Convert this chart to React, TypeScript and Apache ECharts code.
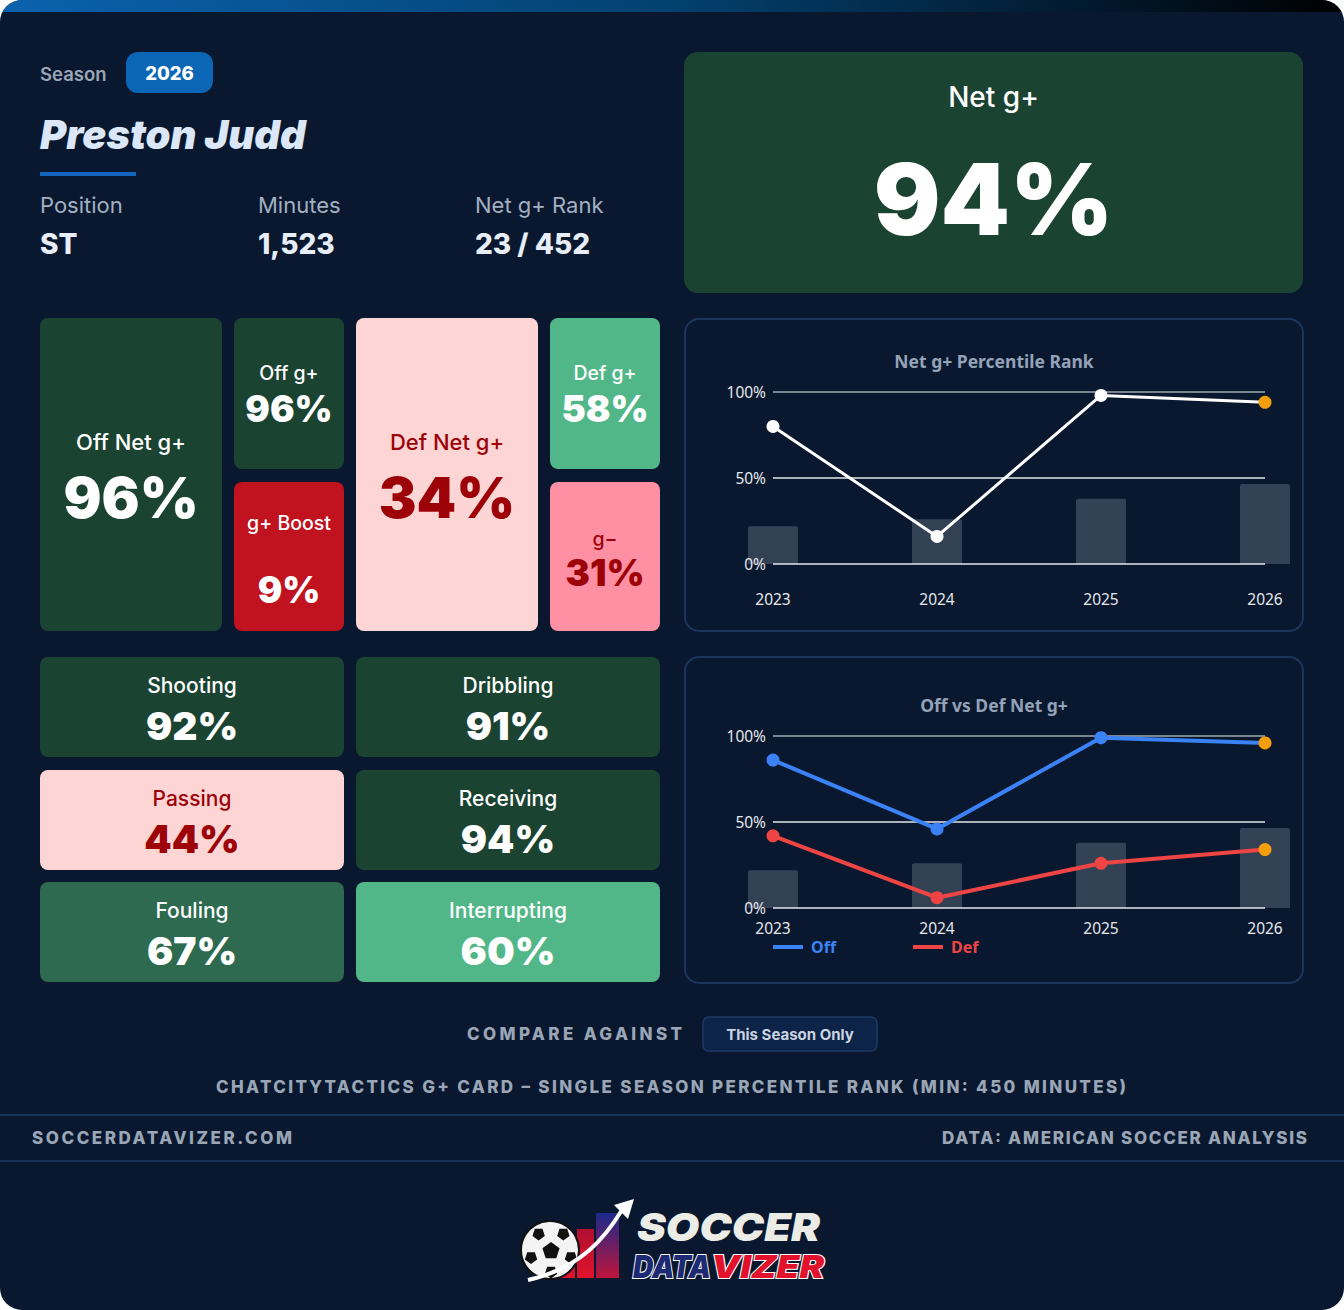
import React, { useEffect, useRef } from "react";
import * as echarts from "echarts";

// ---------- data ----------
const seasonLabel = "2026";
const playerName = "Preston Judd";
const infoLabels = ["Position", "Minutes", "Net g+ Rank"];
const infoValues = ["ST", "1,523", "23 / 452"];
const netGPlusLabel = "Net g+";
const netGPlusValue = 94;

const splitLabels = ["Off Net g+", "Off g+", "g+ Boost", "Def Net g+", "Def g+", "g−"];
const splitValues = [96, 96, 9, 34, 58, 31];

const skillLabels = ["Shooting", "Dribbling", "Passing", "Receiving", "Fouling", "Interrupting"];
const skillValues = [92, 91, 44, 94, 67, 60];

const years = ["2023", "2024", "2025", "2026"];
const netPct = [80, 16, 98, 94];
const offPct = [86, 46, 99, 96];
const defPct = [42, 6, 26, 34];
const seasonBars = [22, 26, 38, 46.5];
const yTickInterval = 50;

const chartTitles = ["Net g+ Percentile Rank", "Off vs Def Net g+"];
const compareLabel = "COMPARE AGAINST";
const compareButton = "This Season Only";
const creditLine = "CHATCITYTACTICS G+ CARD – SINGLE SEASON PERCENTILE RANK (MIN: 450 MINUTES)";
const footerLeft = "SOCCERDATAVIZER.COM";
const footerRight = "DATA: AMERICAN SOCCER ANALYSIS";
const logoWords = ["SOCCER", "DATA", "VIZER"];

// ---------- styles / layout ----------
const BG = "#09182f";
const DARK_RED = "#9d0208";
const CHART_FONT = "'Noto Sans', sans-serif";
const INTER = "Inter, 'Noto Sans', sans-serif";

function tileColors(v: number) {
  if (v >= 90) return { bg: "#1b4332", fg: "#ffffff" };
  if (v >= 65) return { bg: "#2d6a4f", fg: "#ffffff" };
  if (v >= 50) return { bg: "#52b788", fg: "#ffffff" };
  if (v >= 33) return { bg: "#fdd5d5", fg: DARK_RED };
  if (v >= 15) return { bg: "#ff8fa3", fg: DARK_RED };
  return { bg: "#c1121f", fg: "#ffffff" };
}

// x, y, w, h, labelY, valueY, labelSize, valueSize
const splitLayout = [
  [40, 318, 182, 313, 442, 497, 22, 56.5],
  [234, 318, 110, 151, 373, 409, 19.5, 36.5],
  [234, 482, 110, 149, 523, 590, 19.5, 36.5],
  [356, 318, 182, 313, 442, 497, 22, 56.5],
  [550, 318, 110, 151, 373, 409, 19.5, 36.5],
  [550, 482, 110, 149, 539, 573, 19.5, 36.5],
];
const skillLayout = [
  [40, 657],
  [356, 657],
  [40, 770],
  [356, 770],
  [40, 882],
  [356, 882],
];

// texts drawn with letter spacing / stretched: target width and adjust mode
const fittedTexts: Record<string, [number, string]> = {
  [compareLabel]: [215, "spacing"],
  [creditLine]: [910, "spacing"],
  [footerLeft]: [260, "spacing"],
  [footerRight]: [365, "spacing"],
  [logoWords[0]]: [183, "spacingAndGlyphs"],
  [logoWords[1]]: [78, "spacingAndGlyphs"],
  [logoWords[2]]: [113, "spacingAndGlyphs"],
};

function txt(
  text: string,
  x: number,
  y: number,
  size: number,
  weight: any,
  fill: string,
  family: string,
  align: string = "center",
  extra: any = {}
) {
  return {
    type: "text",
    z: 20,
    silent: true,
    style: {
      text,
      x,
      y,
      fill,
      fontSize: size,
      fontWeight: weight,
      fontFamily: family,
      textAlign: align,
      align,
      textVerticalAlign: "middle",
      verticalAlign: "middle",
      ...extra,
    },
  };
}

function rect(x: number, y: number, w: number, h: number, r: any, style: any, z = 5) {
  return { type: "rect", z, silent: true, shape: { x, y, width: w, height: h, r }, style };
}

function pentagon(cx: number, cy: number, r: number, rot: number) {
  const pts: number[][] = [];
  for (let i = 0; i < 5; i++) {
    const a = rot + (i * 2 * Math.PI) / 5 - Math.PI / 2;
    pts.push([cx + r * Math.cos(a), cy + r * Math.sin(a)]);
  }
  return pts;
}

function buildGraphics() {
  const els: any[] = [];

  // top gradient bar
  els.push(
    rect(0, 0, 1344, 12, 0, {
      fill: new echarts.graphic.LinearGradient(0, 0, 1, 0, [
        { offset: 0, color: "#0b62ae" },
        { offset: 0.5, color: "#02416f" },
        { offset: 0.8, color: "#021a30" },
        { offset: 1, color: "#000000" },
      ]),
    })
  );

  // header
  els.push(txt("Season", 40, 74, 18.5, 600, "#9aa6b6", INTER, "left"));
  els.push(rect(126, 52, 87, 41, 12, { fill: "#0b66b5" }));
  els.push(txt(seasonLabel, 169.5, 73, 18.5, 800, "#ffffff", INTER));
  els.push(txt(playerName, 40, 134, 40, 900, "#dbe7f7", INTER, "left", { fontStyle: "italic" }));
  els.push(rect(40, 172, 96, 4, 0, { fill: "#1565c0" }));
  const infoX = [40, 258, 475];
  infoLabels.forEach((l, i) => {
    els.push(txt(l, infoX[i], 205, 22, 400, "#a3b0c2", INTER, "left"));
    els.push(txt(infoValues[i], infoX[i], 244, 28, 800, "#e8eef8", INTER, "left"));
  });

  // big net g+ box
  els.push(rect(684, 52, 619, 241, 14, { fill: tileColors(netGPlusValue).bg }));
  els.push(txt(netGPlusLabel, 993.5, 97, 28, 500, "#ffffff", INTER));
  els.push(txt(netGPlusValue + "%", 993.5, 199, 99, 900, "#ffffff", INTER));

  // split tiles
  splitLayout.forEach(([x, y, w, h, ly, vy, ls, vs], i) => {
    const c = tileColors(splitValues[i]);
    els.push(rect(x, y, w, h, 8, { fill: c.bg }));
    els.push(txt(splitLabels[i], x + w / 2, ly, ls, 500, c.fg, INTER));
    els.push(txt(splitValues[i] + "%", x + w / 2, vy, vs, 900, c.fg, INTER));
  });

  // skill tiles
  skillLayout.forEach(([x, y], i) => {
    const c = tileColors(skillValues[i]);
    els.push(rect(x, y, 304, 100, 8, { fill: c.bg }));
    els.push(txt(skillLabels[i], x + 152, y + 28, 21, 500, c.fg, INTER));
    els.push(txt(skillValues[i] + "%", x + 152, y + 68, 39, 900, c.fg, INTER));
  });

  // chart panels
  els.push(rect(685, 319, 618, 312, 14, { fill: "none", stroke: "#1b355e", lineWidth: 2 }, 1));
  els.push(rect(685, 657, 618, 326, 14, { fill: "none", stroke: "#1b355e", lineWidth: 2 }, 1));
  els.push(txt(chartTitles[0], 994, 361, 17.5, 700, "#94a3b8", CHART_FONT));
  els.push(txt(chartTitles[1], 994, 705, 17.5, 700, "#94a3b8", CHART_FONT));

  // compare / credits
  els.push(txt(compareLabel, 467, 1034, 17, 800, "#9aa6b6", INTER, "left"));
  els.push(rect(703, 1017, 174, 34, 6, { fill: "#0d2347", stroke: "#1e3b68", lineWidth: 1.5 }));
  els.push(txt(compareButton, 790, 1034.5, 15, 700, "#cbd5e1", INTER));
  els.push(txt(creditLine, 216, 1087, 17, 800, "#9aa6b6", INTER, "left"));
  els.push(rect(0, 1114, 1344, 2, 0, { fill: "#1b3358" }));
  els.push(txt(footerLeft, 32, 1138, 17, 800, "#9aa6b6", INTER, "left"));
  els.push(txt(footerRight, 942, 1138, 17, 800, "#9aa6b6", INTER, "left"));
  els.push(rect(0, 1160, 1344, 2, 0, { fill: "#1b3358" }));

  // logo
  const barGrad = (top: string, bottom: string) =>
    new echarts.graphic.LinearGradient(0, 0, 0, 1, [
      { offset: 0, color: top },
      { offset: 1, color: bottom },
    ]);
  els.push(rect(557, 1238, 18, 40, 0, { fill: barGrad("#b0102a", "#e0142c") }, 30));
  els.push(rect(577, 1229, 17, 49, 0, { fill: barGrad("#b00f30", "#e0142c") }, 30));
  els.push(rect(596, 1213, 23, 65, 0, { fill: barGrad("#1a2a8c", "#c0143a") }, 30));
  els.push({
    type: "circle",
    z: 31,
    silent: true,
    shape: { cx: 550, cy: 1250, r: 29 },
    style: { fill: "#f4f4f4", stroke: "#111", lineWidth: 2 },
  });
  els.push({ type: "polygon", z: 32, silent: true, shape: { points: pentagon(551, 1251, 9, 0) }, style: { fill: "#111" } });
  for (let k = 0; k < 5; k++) {
    const a = (k * 2 * Math.PI) / 5 + Math.PI / 2;
    els.push({
      type: "polygon",
      z: 32,
      silent: true,
      shape: { points: pentagon(551 + 21 * Math.cos(a), 1251 + 21 * Math.sin(a), 6.5, Math.PI) },
      style: { fill: "#111" },
    });
  }
  els.push({
    type: "bezierCurve",
    z: 33,
    silent: true,
    shape: { x1: 528, y1: 1280, x2: 622, y2: 1210, cpx1: 582, cpy1: 1268, cpx2: 606, cpy2: 1236 },
    style: { stroke: "#ffffff", lineWidth: 4, fill: "none" },
  });
  els.push({
    type: "polygon",
    z: 33,
    silent: true,
    shape: { points: [[634, 1199], [614, 1205], [628, 1219]] },
    style: { fill: "#ffffff" },
  });
  const logoStyle = { fontStyle: "italic", lineHeight: 36 };
  els.push(txt(logoWords[0], 637, 1226, 39, 900, "#ecece6", INTER, "left", logoStyle));
  els.push(
    txt(logoWords[1], 633, 1266, 31, 900, "#1b2a72", INTER, "left", { ...logoStyle, stroke: "#ffffff", lineWidth: 2, lineHeight: 30 })
  );
  els.push(
    txt(logoWords[2], 711, 1266, 31, 900, "#e3122c", INTER, "left", { ...logoStyle, stroke: "#ffffff", lineWidth: 2, lineHeight: 30 })
  );
  return els;
}

function lastOrange(arr: number[]) {
  return arr.map((v, i) => (i === arr.length - 1 ? { value: v, itemStyle: { color: "#f59e0b" } } : v));
}

function buildOption() {
  const axisLabelStyle = { color: "#e5e7eb", fontFamily: CHART_FONT };
  const lineSeries = (name: string, data: number[], color: string, idx: number, width: number) => ({
    type: "line",
    name,
    xAxisIndex: idx,
    yAxisIndex: idx,
    data: lastOrange(data),
    symbol: "circle",
    symbolSize: 13,
    lineStyle: { color, width },
    itemStyle: { color },
    emphasis: { disabled: true },
    z: 6,
  });
  const barSeries = (idx: number) => ({
    type: "bar",
    xAxisIndex: idx,
    yAxisIndex: idx,
    data: seasonBars,
    barWidth: 50,
    clip: false,
    silent: true,
    itemStyle: { color: "#334155", borderRadius: [2, 2, 0, 0] },
    emphasis: { disabled: true },
    z: 2,
  });
  return {
    animation: false,
    backgroundColor: "transparent",
    grid: [
      { left: 773, right: 79, top: 392, height: 172 },
      { left: 773, right: 79, top: 736, height: 172 },
    ],
    xAxis: [0, 1].map((i) => ({
      gridIndex: i,
      type: "category",
      data: years,
      boundaryGap: false,
      z: 4,
      axisLine: { show: false },
      axisTick: { show: false },
      splitLine: { show: false },
      axisLabel: { ...axisLabelStyle, fontSize: 15.5, margin: i === 0 ? 27 : 12 },
    })),
    yAxis: [0, 1].map((i) => ({
      gridIndex: i,
      type: "value",
      min: 0,
      max: 100,
      interval: yTickInterval,
      z: 4,
      axisLine: { show: false },
      axisTick: { show: false },
      axisLabel: { ...axisLabelStyle, fontSize: 15.5, margin: 7, formatter: "{value}%" },
      splitLine: { lineStyle: { color: ["#e5e7eb", "#e5e7eb", "#a1a8b3"], width: 1.5 } },
    })),
    legend: {
      data: [
        { name: "Off", textStyle: { color: "#3b82f6" } },
        { name: "Def", textStyle: { color: "#ef4444" } },
      ],
      left: 773,
      top: 939,
      padding: 0,
      icon: "rect",
      itemWidth: 30,
      itemHeight: 4,
      itemGap: 77,
      selectedMode: false,
      textStyle: { fontSize: 16, fontWeight: "bold", fontFamily: CHART_FONT, padding: [0, 0, 0, 3] },
    },
    tooltip: { show: false },
    series: [
      barSeries(0),
      lineSeries("Net", netPct, "#ffffff", 0, 3),
      barSeries(1),
      lineSeries("Off", offPct, "#3b82f6", 1, 4),
      lineSeries("Def", defPct, "#ef4444", 1, 4),
    ],
    graphic: { elements: buildGraphics() },
  };
}

export default function App() {
  const ref = useRef<HTMLDivElement>(null);
  useEffect(() => {
    document.body.style.margin = "0";
    const el = ref.current!;
    const chart = echarts.init(el, undefined, { renderer: "svg" });
    chart.setOption(buildOption() as any);
    const fit = () => {
      el.querySelectorAll("text").forEach((t) => {
        const f = fittedTexts[(t.textContent || "").trim()];
        if (f) {
          t.setAttribute("textLength", String(f[0]));
          t.setAttribute("lengthAdjust", f[1]);
        }
      });
    };
    fit();
    chart.on("finished", fit);
    const tm = setTimeout(fit, 60);
    return () => {
      clearTimeout(tm);
      chart.dispose();
    };
  }, []);
  return (
    <div
      ref={ref}
      style={{
        width: 1344,
        height: 1310,
        borderRadius: 22,
        overflow: "hidden",
        background: BG,
      }}
    />
  );
}
